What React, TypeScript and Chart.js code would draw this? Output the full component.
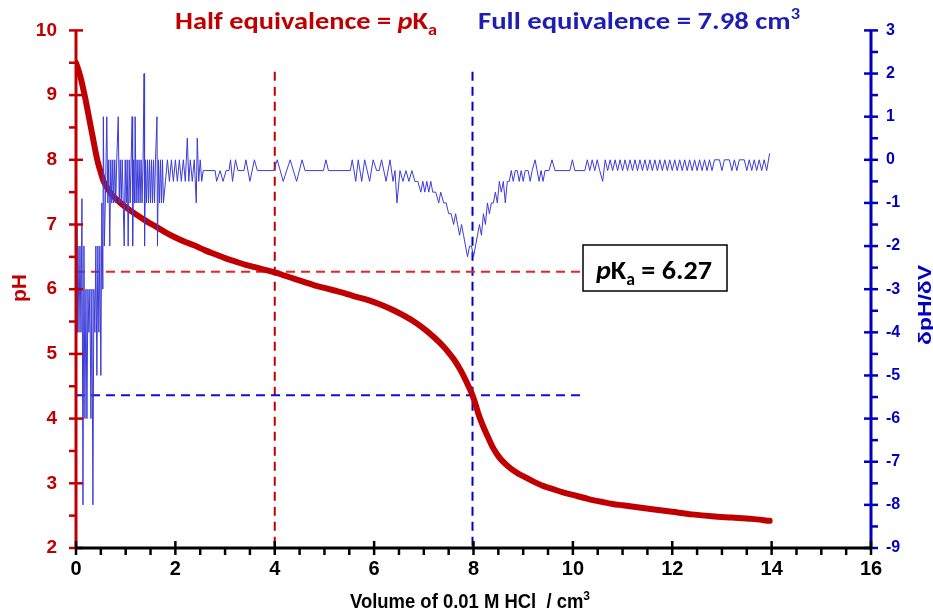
import React, { useEffect, useRef } from 'react';
import { Chart, registerables } from 'chart.js';

Chart.register(...registerables);

// ---------- data ----------
const phVolume = [
  0.0, 0.03, 0.06, 0.1, 0.15, 0.2, 0.25, 0.3, 0.35, 0.4, 0.45, 0.5, 0.55, 0.6, 0.7, 0.8, 0.9, 1.0,
  1.2, 1.4, 1.6, 1.8, 2.0, 2.2, 2.4, 2.6, 2.8, 3.0, 3.2, 3.4, 3.6, 3.8, 4.0, 4.2, 4.4, 4.6, 4.8,
  5.0, 5.2, 5.4, 5.6, 5.8, 6.0, 6.2, 6.4, 6.6, 6.8, 7.0, 7.2, 7.4, 7.5, 7.6, 7.7, 7.8, 7.9, 7.98,
  8.05, 8.1, 8.2, 8.3, 8.4, 8.5, 8.6, 8.7, 8.8, 8.9, 9.0, 9.2, 9.4, 9.6, 9.8, 10.0, 10.3, 10.6,
  10.8, 11.0, 11.3, 11.6, 12.0, 12.4, 12.8, 13.2, 13.6, 13.96,
];
const phValue = [
  9.5, 9.43, 9.36, 9.25, 9.08, 8.9, 8.7, 8.5, 8.3, 8.1, 7.93, 7.8, 7.68, 7.6, 7.48, 7.4, 7.33, 7.27,
  7.16, 7.06, 6.97, 6.88, 6.8, 6.73, 6.67, 6.6, 6.54, 6.48, 6.43, 6.38, 6.34, 6.3, 6.26, 6.21, 6.16, 6.11, 6.06,
  6.02, 5.98, 5.94, 5.89, 5.85, 5.8, 5.74, 5.67, 5.59, 5.5, 5.39, 5.26, 5.11, 5.02, 4.92, 4.8, 4.66, 4.5, 4.36,
  4.2, 4.07, 3.87, 3.7, 3.54, 3.42, 3.33, 3.26, 3.2, 3.15, 3.11, 3.03, 2.96, 2.91, 2.86, 2.82, 2.76, 2.71,
  2.68, 2.66, 2.63, 2.6, 2.56, 2.52, 2.49, 2.47, 2.45, 2.42,
];

// derivative dpH/dV, in segments [volume, slope]
const derivEarly: [number, number][] = [
  [0.0, -1.5], [0.02, -4], [0.04, -2], [0.06, -4], [0.08, -2], [0.1, -4], [0.12, -0.9], [0.14, -8],
  [0.16, -2], [0.18, -6], [0.2, -3], [0.22, -6], [0.24, -3], [0.26, -4], [0.28, -3], [0.3, -6],
  [0.32, -3], [0.34, -8], [0.36, -3], [0.38, -4], [0.4, -2], [0.42, -5], [0.44, -2], [0.46, -4],
  [0.48, -2], [0.5, -5], [0.52, -1], [0.54, -3], [0.55, 1], [0.57, -2], [0.59, -1],
];
const derivBand: [number, number][] = [
  [0.62, 1], [0.64, -1], [0.66, 0], [0.68, -2], [0.7, 0], [0.72, -1], [0.74, 0], [0.76, -1], [0.78, 0],
  [0.8, -1], [0.82, 0], [0.85, 1], [0.87, -1], [0.89, 0], [0.91, -1], [0.93, 0], [0.95, -1], [0.97, -2],
  [0.99, 0], [1.01, -1], [1.03, 0], [1.05, -2], [1.07, 0], [1.09, -1], [1.11, 0], [1.13, 1], [1.14, -2],
  [1.16, 0], [1.18, -1], [1.19, 1], [1.21, -1], [1.23, 0], [1.25, -1], [1.27, 0], [1.29, -1], [1.31, 0],
  [1.33, -1], [1.35, 0], [1.37, 2], [1.38, -2], [1.4, 0], [1.42, -1], [1.44, 0], [1.46, -1], [1.48, 0],
  [1.5, -1], [1.52, 0], [1.54, -1], [1.56, 0], [1.58, -1], [1.6, 0], [1.63, 1], [1.64, -2], [1.66, 0],
  [1.68, -1], [1.7, 0], [1.72, -1], [1.74, 0], [1.76, -1],
];
const derivSettle: [number, number][] = [
  [1.8, -0.5], [1.84, 0], [1.88, -0.5], [1.92, 0], [1.96, -0.5], [2.0, 0], [2.04, -0.5], [2.08, 0],
  [2.12, -0.5], [2.16, 0], [2.2, -0.5], [2.24, 0.5], [2.27, -0.5], [2.3, 0], [2.34, -0.5], [2.38, 0],
  [2.42, -1], [2.44, 0.5], [2.47, -0.5], [2.5, 0], [2.53, -0.5], [2.56, -0.25],
];
const derivMid: [number, number][] = [
  [2.6, -0.25], [2.8, -0.25], [2.83, -0.5], [2.9, -0.25], [2.96, -0.5], [3.02, -0.25], [3.08, -0.25],
  [3.11, 0], [3.15, -0.5], [3.21, 0], [3.26, -0.25], [3.38, -0.25], [3.42, 0], [3.5, -0.5], [3.59, 0],
  [3.65, -0.25], [3.98, -0.25], [4.05, 0], [4.17, -0.5], [4.31, 0], [4.44, -0.5], [4.55, 0], [4.61, -0.25],
  [4.98, -0.25], [5.03, 0], [5.08, -0.25], [5.52, -0.25], [5.56, 0], [5.63, -0.5], [5.68, 0], [5.75, -0.5],
  [5.81, 0], [5.91, -0.5], [5.98, 0], [6.05, -0.25], [6.1, -0.25], [6.15, 0], [6.24, -0.5], [6.32, 0],
  [6.38, -0.5], [6.42, -0.25], [6.46, -1], [6.52, -0.25],
];
const derivDip: [number, number][] = [
  [6.58, -0.5], [6.64, -0.25], [6.7, -0.5], [6.76, -0.25], [6.82, -0.5], [6.88, -0.5], [6.94, -0.75],
  [6.98, -0.5], [7.02, -0.75], [7.06, -0.5], [7.1, -0.75], [7.14, -0.5], [7.18, -0.75], [7.24, -0.75],
  [7.3, -1], [7.34, -0.75], [7.4, -1], [7.45, -1], [7.5, -1.25], [7.55, -1.25], [7.6, -1.5], [7.64, -1.25],
  [7.68, -1.5], [7.72, -1.75], [7.76, -1.5], [7.8, -1.75], [7.84, -2], [7.88, -2.25], [7.92, -2], [7.96, -2],
  [8.0, -2.25], [8.04, -2], [8.08, -1.75], [8.12, -1.5], [8.16, -1.75], [8.2, -1.25], [8.24, -1.5],
  [8.28, -1], [8.32, -1.25], [8.36, -1], [8.4, -1], [8.44, -0.75], [8.48, -1], [8.52, -0.5], [8.56, -0.75],
  [8.6, -0.5], [8.64, -1], [8.68, -0.5], [8.72, -0.5], [8.76, -0.25], [8.8, -0.5], [8.84, -0.25],
  [8.88, -0.25], [8.92, -0.5], [8.96, -0.25], [9.0, -0.5], [9.04, -0.25], [9.1, -0.25], [9.14, -0.5],
  [9.18, -0.25], [9.24, 0], [9.28, -0.25], [9.32, -0.5], [9.36, -0.25], [9.4, -0.5], [9.44, -0.25],
  [9.52, -0.25], [9.58, 0], [9.64, -0.25], [9.94, -0.25], [9.99, 0], [10.04, -0.25], [10.24, -0.25],
];
const derivLate: [number, number][] = [
  [10.29, 0], [10.34, -0.25], [10.39, 0], [10.44, -0.25], [10.49, 0], [10.54, -0.25], [10.6, -0.5],
  [10.65, 0], [10.7, -0.25], [10.75, 0], [10.8, -0.25], [10.85, 0], [10.9, -0.25], [10.95, 0], [11.0, -0.25],
  [11.05, 0], [11.1, -0.25], [11.15, 0], [11.2, -0.25], [11.25, 0], [11.3, -0.25], [11.35, 0], [11.4, -0.25],
  [11.45, 0], [11.5, -0.25], [11.55, 0], [11.6, -0.25], [11.65, 0], [11.7, -0.25], [11.75, 0], [11.8, -0.25],
  [11.85, 0], [11.9, -0.25], [11.95, 0], [12.0, -0.25], [12.05, 0], [12.1, -0.25], [12.15, 0], [12.2, -0.25],
  [12.25, 0], [12.3, -0.25], [12.35, 0], [12.4, -0.25], [12.45, 0], [12.5, -0.25], [12.55, 0], [12.6, -0.25],
  [12.65, 0], [12.7, -0.25], [12.75, 0], [12.8, -0.25], [12.85, 0], [12.95, 0], [13.0, -0.25], [13.05, 0],
  [13.15, 0], [13.2, -0.25], [13.25, 0], [13.3, -0.25], [13.35, 0], [13.45, 0], [13.5, -0.25], [13.55, 0],
  [13.6, -0.25], [13.65, 0], [13.7, -0.25], [13.75, 0], [13.8, -0.25], [13.85, 0], [13.9, -0.25], [13.96, 0.15],
];

const halfEqVolume = 4.0;
const fullEqVolume = 7.98;
const pKaValue = 6.27;
const eqPH = 4.36;
const guideTopPH = 9.36;
const guideEndVolume = 10.2;

const xRange = [0, 16];
const pHRange = [2, 10];
const slopeRange = [-9, 3];

const RED = '#C00000';
const BLUE_AXIS = '#0000C0';
const BLUE_TEXT = '#1E1EB4';
const BLUE_LINE = '#3C3CD8';
const LABEL_FONT = "Carlito, Lato, 'Open Sans', sans-serif";
const NARROW_FONT = "'Liberation Sans Narrow', 'Arial Narrow', 'Liberation Sans', Arial, sans-serif";
const AXIS_FONT = "'Liberation Sans', Arial, sans-serif";

type Run = { t: string; size: number; italic?: boolean; dy?: number };

function drawRuns(
  ctx: CanvasRenderingContext2D,
  runs: Run[],
  opts: { x: number; y: number; color: string; family: string; width?: number; center?: boolean; rotate?: number }
) {
  ctx.save();
  ctx.fillStyle = opts.color;
  ctx.textBaseline = 'alphabetic';
  ctx.textAlign = 'left';
  const fontOf = (r: Run) => `${r.italic ? 'italic ' : ''}bold ${r.size}px ${opts.family}`;
  let total = 0;
  for (const r of runs) {
    ctx.font = fontOf(r);
    total += ctx.measureText(r.t).width;
  }
  const sx = opts.width ? opts.width / total : 1;
  ctx.translate(opts.x, opts.y);
  if (opts.rotate) ctx.rotate(opts.rotate);
  ctx.scale(sx, 1);
  let cx = opts.center ? -total / 2 : 0;
  for (const r of runs) {
    ctx.font = fontOf(r);
    ctx.fillText(r.t, cx, r.dy || 0);
    cx += ctx.measureText(r.t).width;
  }
  ctx.restore();
}

const overlayPlugin = {
  id: 'overlay',
  beforeDatasetsDraw(chart: any) {
    const { ctx } = chart;
    const x = chart.scales.x;
    const y = chart.scales.y;
    const seg = (x1: number, y1: number, x2: number, y2: number, color: string) => {
      ctx.strokeStyle = color;
      ctx.beginPath();
      ctx.moveTo(x1, y1);
      ctx.lineTo(x2, y2);
      ctx.stroke();
    };
    ctx.save();
    ctx.lineWidth = 2;
    ctx.setLineDash([9, 6]);
    const bottom = y.getPixelForValue(pHRange[0]);
    const top = y.getPixelForValue(guideTopPH);
    seg(x.getPixelForValue(halfEqVolume), top, x.getPixelForValue(halfEqVolume), bottom, RED);
    seg(x.getPixelForValue(fullEqVolume), top, x.getPixelForValue(fullEqVolume), bottom, BLUE_AXIS);
    seg(x.getPixelForValue(0), y.getPixelForValue(pKaValue), x.getPixelForValue(guideEndVolume), y.getPixelForValue(pKaValue), '#F02020');
    seg(x.getPixelForValue(0), y.getPixelForValue(eqPH), x.getPixelForValue(guideEndVolume), y.getPixelForValue(eqPH), '#1010D0');
    ctx.restore();
  },
  afterDraw(chart: any) {
    const { ctx, chartArea } = chart;
    const x = chart.scales.x;
    const y = chart.scales.y;
    const y2 = chart.scales.y2;
    const T = 7;
    ctx.save();
    ctx.setLineDash([]);
    ctx.lineCap = 'butt';
    // left axis
    ctx.strokeStyle = RED;
    ctx.lineWidth = 3;
    ctx.beginPath();
    ctx.moveTo(chartArea.left, chartArea.top);
    ctx.lineTo(chartArea.left, chartArea.bottom);
    ctx.stroke();
    ctx.lineWidth = 2.5;
    for (let v = pHRange[0]; v <= pHRange[1]; v += 0.5) {
      const py = y.getPixelForValue(v);
      const major = Number.isInteger(v);
      ctx.beginPath();
      ctx.moveTo(chartArea.left - T, py);
      ctx.lineTo(chartArea.left + (major ? T : 0), py);
      ctx.stroke();
    }
    // right axis
    ctx.strokeStyle = BLUE_AXIS;
    ctx.lineWidth = 3;
    ctx.beginPath();
    ctx.moveTo(chartArea.right, chartArea.top);
    ctx.lineTo(chartArea.right, chartArea.bottom);
    ctx.stroke();
    ctx.lineWidth = 2.5;
    for (let v = slopeRange[0]; v <= slopeRange[1]; v += 0.5) {
      const py = y2.getPixelForValue(v);
      const major = Number.isInteger(v);
      ctx.beginPath();
      ctx.moveTo(chartArea.right - (major ? T : 0), py);
      ctx.lineTo(chartArea.right + T, py);
      ctx.stroke();
    }
    // x axis
    ctx.strokeStyle = '#000';
    ctx.lineWidth = 3;
    ctx.beginPath();
    ctx.moveTo(chartArea.left, chartArea.bottom);
    ctx.lineTo(chartArea.right, chartArea.bottom);
    ctx.stroke();
    ctx.lineWidth = 2.5;
    for (let v = xRange[0]; v <= xRange[1]; v += 0.5) {
      const px = x.getPixelForValue(v);
      const major = v % 2 === 0;
      ctx.beginPath();
      ctx.moveTo(px, chartArea.bottom - (major ? T : 0));
      ctx.lineTo(px, chartArea.bottom + T);
      ctx.stroke();
    }
    ctx.restore();

    // top titles
    drawRuns(ctx, [
      { t: 'Half equivalence = ', size: 25 },
      { t: 'p', size: 25, italic: true },
      { t: 'K', size: 25 },
      { t: 'a', size: 16, dy: 6 },
    ], { x: 175, y: 29, color: RED, family: LABEL_FONT, width: 262 });
    drawRuns(ctx, [
      { t: 'Full equivalence = 7.98 cm', size: 25 },
      { t: '3', size: 16, dy: -10 },
    ], { x: 478, y: 29, color: BLUE_TEXT, family: LABEL_FONT, width: 322 });

    // pKa box
    ctx.save();
    ctx.fillStyle = '#fff';
    ctx.fillRect(583, 245, 144, 46);
    ctx.strokeStyle = '#000';
    ctx.lineWidth = 1.5;
    ctx.strokeRect(583, 245, 144, 46);
    ctx.restore();
    drawRuns(ctx, [
      { t: 'p', size: 27, italic: true },
      { t: 'K', size: 27 },
      { t: 'a', size: 17, dy: 6 },
      { t: ' = 6.27', size: 27 },
    ], { x: 596, y: 279, color: '#000', family: LABEL_FONT, width: 116 });

    // axis titles
    drawRuns(ctx, [{ t: 'pH', size: 21 }], { x: 26, y: 288, color: RED, family: AXIS_FONT, center: true, rotate: -Math.PI / 2 });
    drawRuns(ctx, [{ t: 'δpH/δV', size: 18 }], { x: 931, y: 305, color: BLUE_AXIS, family: AXIS_FONT, center: true, rotate: -Math.PI / 2, width: 80 });
    drawRuns(ctx, [
      { t: 'Volume of 0.01 M HCl  / cm', size: 20 },
      { t: '3', size: 13, dy: -8 },
    ], { x: 470, y: 608, color: '#000', family: NARROW_FONT, center: true, width: 240 });
  },
};

export default function App() {
  const ref = useRef<HTMLCanvasElement | null>(null);
  useEffect(() => {
    if (!ref.current) return;
    const derivative = [...derivEarly, ...derivBand, ...derivSettle, ...derivMid, ...derivDip, ...derivLate];
    const chart = new Chart(ref.current, {
      type: 'scatter',
      data: {
        datasets: [
          {
            label: 'dpH/dV',
            data: derivative.map(([v, s]) => ({ x: v, y: s })),
            yAxisID: 'y2',
            showLine: true,
            borderColor: BLUE_LINE,
            borderWidth: 1,
            pointRadius: 0,
            tension: 0,
            order: 0,
          },
          {
            label: 'pH',
            data: phVolume.map((v, i) => ({ x: v, y: phValue[i] })),
            yAxisID: 'y',
            showLine: true,
            borderColor: RED,
            borderWidth: 6,
            borderCapStyle: 'round',
            pointRadius: 0,
            cubicInterpolationMode: 'monotone',
            order: 1,
          },
        ],
      },
      options: {
        animation: false,
        responsive: false,
        layout: { padding: { top: 20, left: 0, right: 0, bottom: 0 } },
        plugins: { legend: { display: false }, tooltip: { enabled: false } },
        scales: {
          x: {
            type: 'linear',
            min: xRange[0],
            max: xRange[1],
            grid: { display: false, drawTicks: false },
            border: { display: false },
            ticks: { stepSize: 2, color: '#000', padding: 9, font: { family: NARROW_FONT, weight: 'bold', size: 20 } },
            afterFit: (s: any) => { s.height = 67; },
          },
          y: {
            position: 'left',
            min: pHRange[0],
            max: pHRange[1],
            grid: { display: false, drawTicks: false },
            border: { display: false },
            ticks: { stepSize: 1, color: RED, padding: 19, font: { family: AXIS_FONT, weight: 'bold', size: 19 } },
            afterFit: (s: any) => { s.width = 76; },
          },
          y2: {
            position: 'right',
            min: slopeRange[0],
            max: slopeRange[1],
            grid: { display: false, drawTicks: false },
            border: { display: false },
            ticks: { stepSize: 1, color: BLUE_AXIS, padding: 15, font: { family: AXIS_FONT, weight: 'bold', size: 16 } },
            afterFit: (s: any) => { s.width = 62; },
          },
        },
      } as any,
      plugins: [overlayPlugin],
    });
    return () => chart.destroy();
  }, []);
  return (
    <div style={{ position: 'fixed', left: 0, top: 0, width: 933, height: 615, background: '#fff' }}>
      <canvas ref={ref} width={933} height={615} style={{ width: 933, height: 615, display: 'block' }} />
    </div>
  );
}
